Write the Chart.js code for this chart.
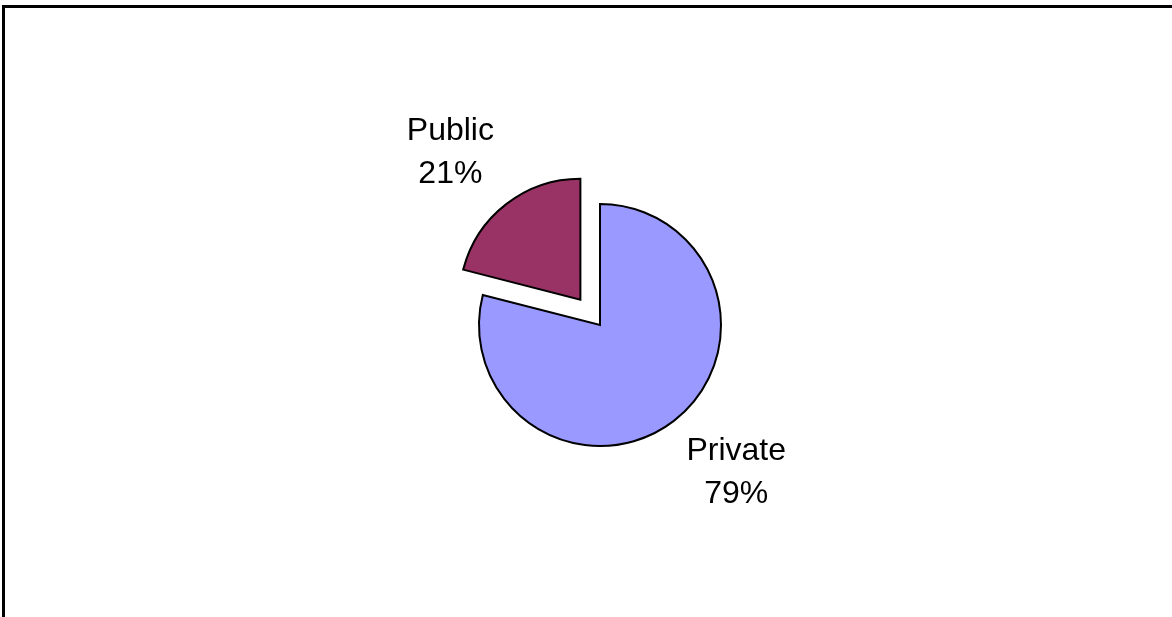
<!DOCTYPE html>
<html>
<head>
<meta charset="utf-8">
<script src="https://cdn.jsdelivr.net/npm/chart.js@4/dist/chart.umd.min.js"></script>
<style>
  html, body { margin: 0; padding: 0; background: #fff; }
  canvas { display: block; }
</style>
</head>
<body>
<canvas id="sectorChart" width="1172" height="617"></canvas>
<script>
const categories = ['Private', 'Public'];
const shares = [79, 21];
const sliceColors = ['#9999FF', '#993366'];
const explode = [0, 32];

// frame round the chart, only top and left edges are in view
const framePlugin = {
  id: 'frame',
  beforeDraw(chart) {
    const ctx = chart.ctx;
    ctx.save();
    ctx.strokeStyle = '#000';
    ctx.lineWidth = 3;
    ctx.beginPath();
    ctx.moveTo(3.5, chart.height + 5);
    ctx.lineTo(3.5, 6.5);
    ctx.lineTo(chart.width + 5, 6.5);
    ctx.stroke();
    ctx.restore();
  }
};

// pull slices out along their mid-angle (the built-in offset barely moves narrow slices)
const explodePlugin = {
  id: 'explode',
  afterDatasetUpdate(chart, args) {
    const meta = chart.getDatasetMeta(args.index);
    meta.data.forEach((arc, i) => {
      const off = explode[i] || 0;
      if (!off) return;
      const mid = (arc.startAngle + arc.endAngle) / 2;
      arc.x += Math.cos(mid) * off;
      arc.y += Math.sin(mid) * off;
    });
  }
};

// "Name / NN%" labels outside each slice, box corner placed on the mid-angle
const outsideLabels = {
  id: 'outsideLabels',
  afterDatasetsDraw(chart) {
    const ctx = chart.ctx;
    const meta = chart.getDatasetMeta(0);
    const total = shares.reduce((a, b) => a + b, 0);
    const lineH = 43;
    ctx.save();
    ctx.font = '32px "Liberation Sans", Arial, sans-serif';
    ctx.fillStyle = '#000';
    ctx.textAlign = 'center';
    ctx.textBaseline = 'middle';
    meta.data.forEach((arc, i) => {
      const p = arc.getProps(['x', 'y', 'startAngle', 'endAngle', 'outerRadius'], true);
      const mid = (p.startAngle + p.endAngle) / 2;
      const dx = Math.cos(mid), dy = Math.sin(mid);
      const d = p.outerRadius + 20;
      const ax = p.x + dx * d;
      const ay = p.y + dy * d;
      const lines = [categories[i], Math.round(shares[i] / total * 100) + '%'];
      const w = Math.max(...lines.map(t => ctx.measureText(t).width));
      const h = 72;
      const bx = ax + Math.sign(dx) * w / 2;
      const by = ay + Math.sign(dy) * h / 2;
      ctx.fillText(lines[0], bx, by - lineH / 2);
      ctx.fillText(lines[1], bx, by + lineH / 2);
    });
    ctx.restore();
  }
};

new Chart(document.getElementById('sectorChart'), {
  type: 'pie',
  data: {
    labels: categories,
    datasets: [{
      data: shares,
      backgroundColor: sliceColors,
      borderColor: '#000',
      borderWidth: 2,
      borderJoinStyle: 'miter'
    }]
  },
  options: {
    responsive: false,
    animation: false,
    radius: 121,
    layout: { padding: { left: 28, top: 33, right: 0, bottom: 0 } },
    plugins: {
      legend: { display: false },
      tooltip: { enabled: false }
    }
  },
  plugins: [framePlugin, explodePlugin, outsideLabels]
});
</script>
</body>
</html>
